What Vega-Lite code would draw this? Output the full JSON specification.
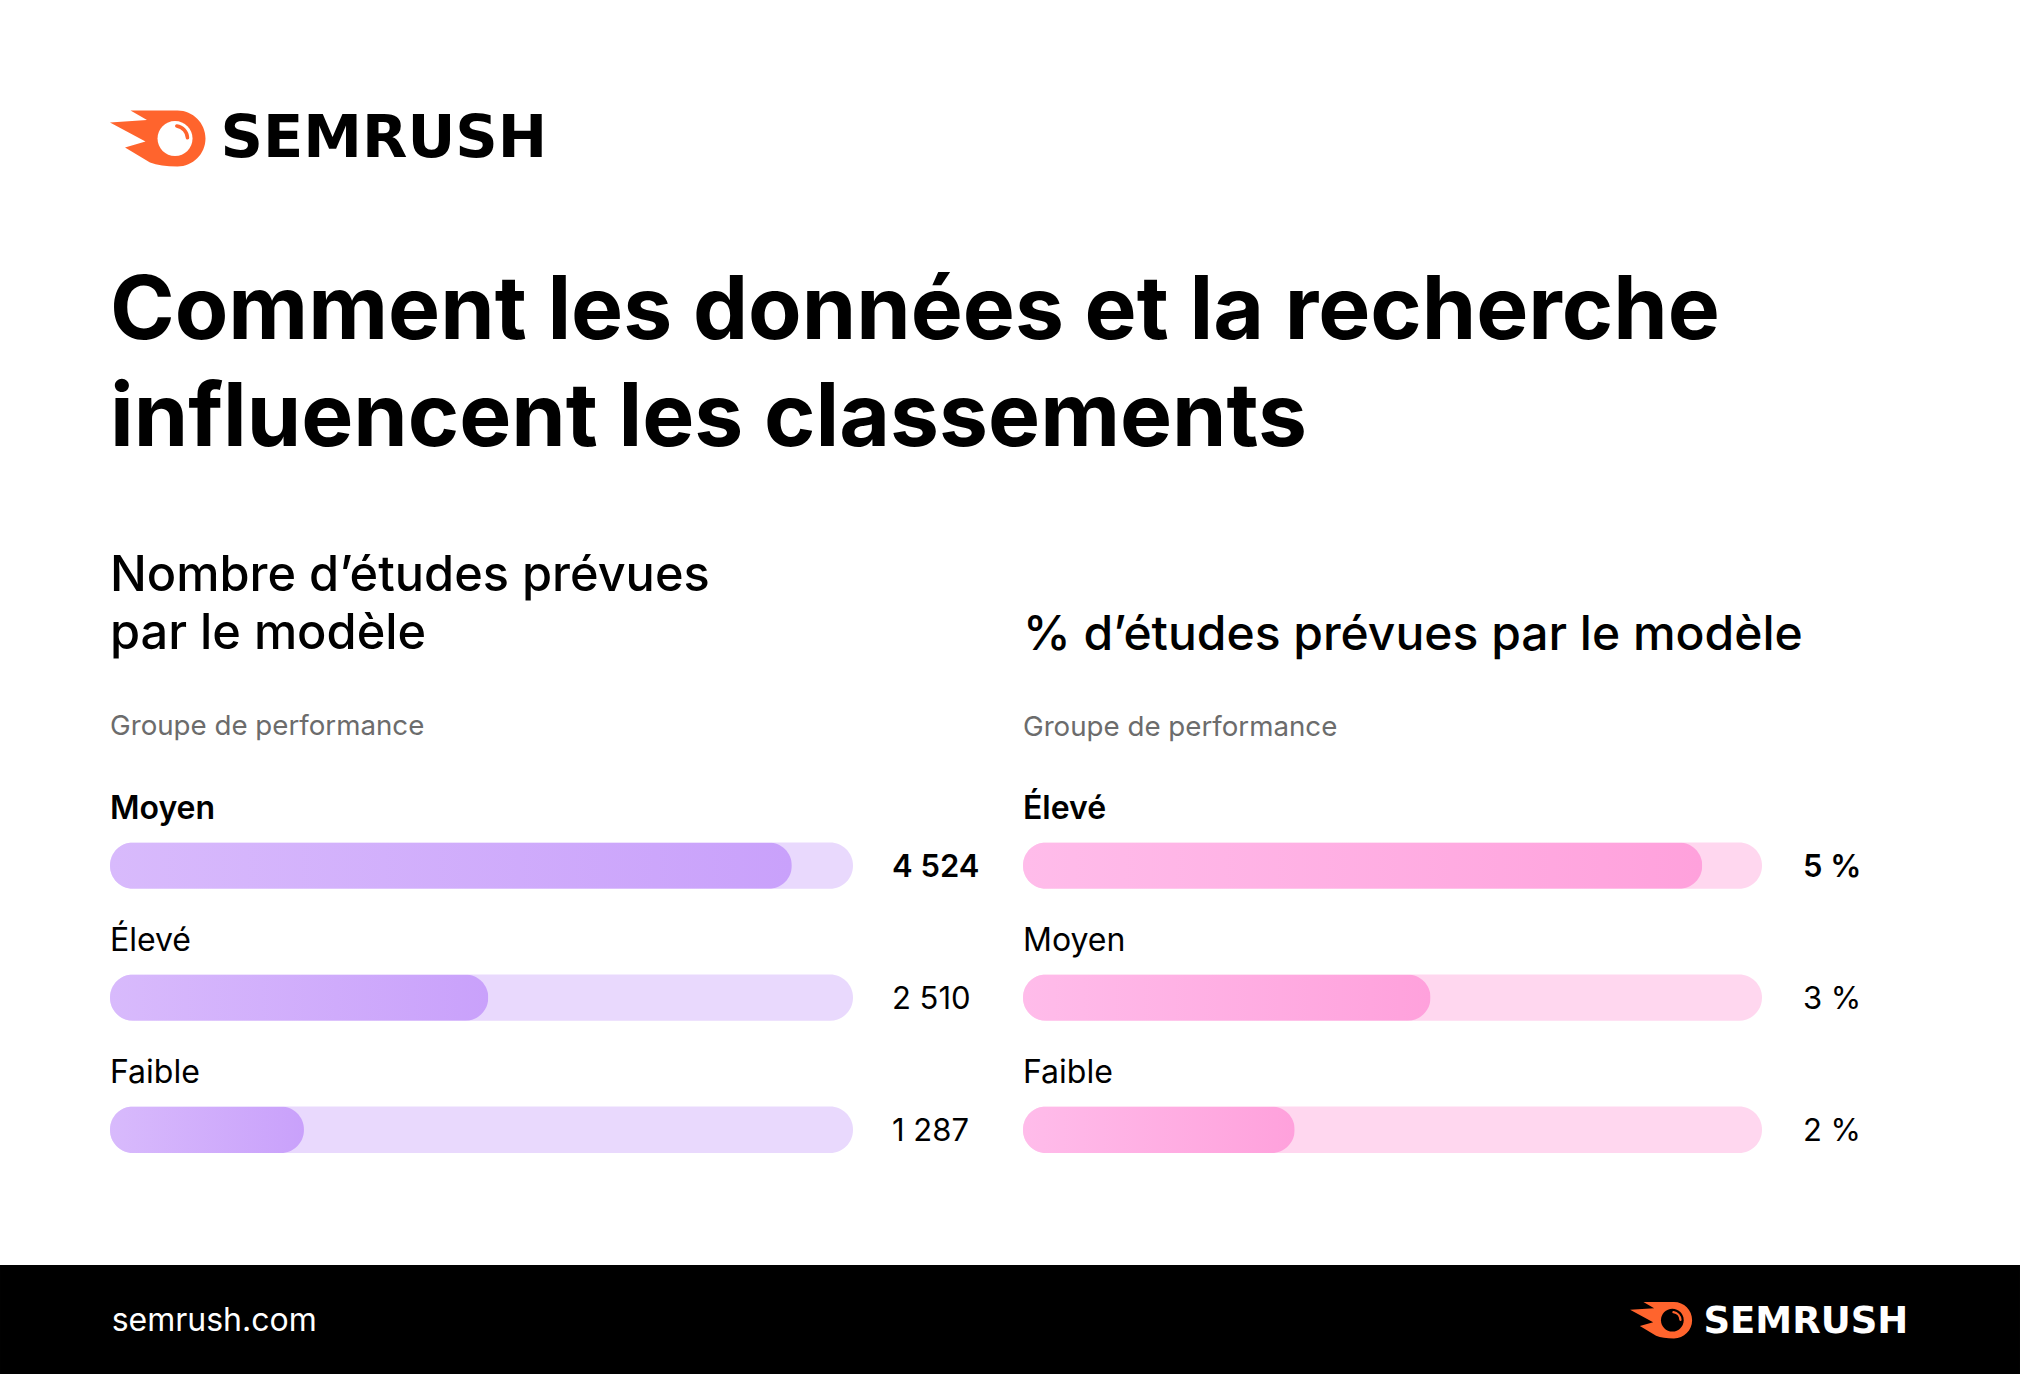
{
  "$schema": "https://vega.github.io/schema/vega-lite/v6.json",
  "background": "#ffffff",
  "padding": {"left": 0, "top": 78.1, "right": 0, "bottom": 0},
  "autosize": {"type": "pad"},
  "config": {
    "view": {"stroke": null},
    "font": "Inter",
    "locale": {"number": {"decimal": ",", "thousands": "\u00a0", "grouping": [3], "currency": ["", "\u00a0€"], "percent": "\u00a0%"}}
  },
  "datasets": {
    "count": [
      {"groupe": "Moyen", "valeur": 4524},
      {"groupe": "Élevé", "valeur": 2510},
      {"groupe": "Faible", "valeur": 1287}
    ],
    "pct": [
      {"groupe": "Élevé", "valeur": 0.05},
      {"groupe": "Moyen", "valeur": 0.03},
      {"groupe": "Faible", "valeur": 0.02}
    ],
    "logo": [{"marque": "SEMRUSH"}],
    "footer": [
      {"slot": "site", "texte": "semrush.com"},
      {"slot": "marque", "texte": "SEMRUSH"}
    ]
  },
  "spacing": 68.5,
  "vconcat": [
    {
      "width": 96,
      "height": 120.4,
      "data": {"name": "logo"},
      "encoding": {
        "y": {"datum": 0, "type": "quantitative", "scale": {"domain": [-1, 1]},
              "axis": {"labels": false, "ticks": false, "grid": false, "domain": true, "domainOpacity": 0, "title": null, "minExtent": 110, "maxExtent": 110}}
      },
      "layer": [
        {"mark": {"type": "point", "shape": "M-0.567,-0.573L0.402,-0.573A0.577,0.577,0,0,1,0.402,0.581Q0.05,0.581,-0.165,0.499L-0.68,0.19L-0.258,0.066L-0.99,-0.326L-0.227,-0.377Z", "size": 9409, "filled": true, "color": "#FF642D", "opacity": 1}},
        {"mark": {"type": "point", "shape": "M-0.01,0.004A0.361,0.361,0,1,1,0.712,0.004A0.361,0.361,0,1,1,-0.01,0.004Z", "size": 9409, "filled": true, "color": "#FFFFFF", "opacity": 1}},
        {"mark": {"type": "point", "shape": "M0.387,-0.252A0.258,0.258,0,0,1,0.608,-0.009", "size": 9409, "filled": false, "color": "#FF642D", "strokeWidth": 3.5, "strokeCap": "round", "opacity": 1}},
        {"mark": {"type": "text", "align": "left", "baseline": "alphabetic", "dx": 62.5, "dy": 18.6, "font": "DejaVu Sans", "fontWeight": "bold", "fontSize": 59, "color": "#000000"},
         "encoding": {"text": {"field": "marque", "type": "nominal"}}}
      ]
    },
    {
      "title": {"text": ["Comment les données et la recherche", "influencent les classements"], "anchor": "start", "frame": "group", "font": "Inter", "fontSize": 87.5, "fontWeight": 700, "lineHeight": 107, "color": "#000000", "offset": 87.6},
      "bounds": "flush",
      "spacing": 170,
      "hconcat": [
        {
          "width": 743,
          "height": 396.15,
          "data": {"name": "count"},
          "title": {"text": ["Nombre d’études prévues", "par le modèle"], "subtitle": "Groupe de performance", "anchor": "start", "frame": "group", "font": "Inter", "fontSize": 48.7, "fontWeight": 500, "lineHeight": 58, "color": "#000000", "subtitleFont": "Inter", "subtitleFontSize": 27.7, "subtitleFontWeight": 400, "subtitleColor": "#6C6C6C", "subtitlePadding": 53.8, "offset": 51.5},
          "encoding": {
            "y": {"field": "groupe", "type": "nominal", "sort": null, "scale": {"paddingInner": 0.649, "paddingOuter": 0.3245},
                  "axis": {"labels": false, "ticks": false, "grid": false, "domain": true, "domainOpacity": 0, "title": null, "minExtent": 110, "maxExtent": 110}}
          },
          "layer": [
            {"mark": {"type": "bar", "cornerRadius": 23, "color": "#E9D9FD"},
             "encoding": {"x": {"datum": 4930, "type": "quantitative", "scale": {"domain": [0, 4930], "nice": false}, "axis": null}}},
            {"mark": {"type": "bar", "cornerRadius": 23, "color": {"gradient": "linear", "x1": 0, "y1": 0, "x2": 1, "y2": 0, "stops": [{"offset": 0, "color": "#D8BAFC"}, {"offset": 1, "color": "#C9A1FB"}]}},
             "encoding": {"x": {"field": "valeur", "type": "quantitative"}}},
            {"transform": [{"filter": {"field": "groupe", "equal": "Moyen"}}],
             "mark": {"type": "text", "align": "left", "baseline": "alphabetic", "dy": -46.3, "fontSize": 32, "fontWeight": 600, "color": "#000000"},
             "encoding": {"x": {"datum": 0, "type": "quantitative"}, "text": {"field": "groupe", "type": "nominal"}}},
            {"transform": [{"filter": {"not": {"field": "groupe", "equal": "Moyen"}}}],
             "mark": {"type": "text", "align": "left", "baseline": "alphabetic", "dy": -46.3, "fontSize": 32, "fontWeight": 400, "color": "#000000"},
             "encoding": {"x": {"datum": 0, "type": "quantitative"}, "text": {"field": "groupe", "type": "nominal"}}},
            {"transform": [{"filter": {"field": "groupe", "equal": "Moyen"}}],
             "mark": {"type": "text", "align": "left", "baseline": "middle", "dx": 39, "dy": 2, "fontSize": 31, "fontWeight": 600, "color": "#000000"},
             "encoding": {"x": {"datum": 4930, "type": "quantitative"}, "text": {"field": "valeur", "type": "quantitative", "format": ",d"}}},
            {"transform": [{"filter": {"not": {"field": "groupe", "equal": "Moyen"}}}],
             "mark": {"type": "text", "align": "left", "baseline": "middle", "dx": 39, "dy": 2, "fontSize": 31, "fontWeight": 400, "color": "#000000"},
             "encoding": {"x": {"datum": 4930, "type": "quantitative"}, "text": {"field": "valeur", "type": "quantitative", "format": ",d"}}}
          ]
        },
        {
          "width": 739,
          "height": 396.15,
          "data": {"name": "pct"},
          "title": {"text": "% d’études prévues par le modèle", "subtitle": "Groupe de performance", "anchor": "start", "frame": "group", "font": "Inter", "fontSize": 48, "fontWeight": 500, "lineHeight": 58, "color": "#000000", "subtitleFont": "Inter", "subtitleFontSize": 27.7, "subtitleFontWeight": 400, "subtitleColor": "#6C6C6C", "subtitlePadding": 53.8, "offset": 51.5},
          "encoding": {
            "y": {"field": "groupe", "type": "nominal", "sort": null, "scale": {"paddingInner": 0.649, "paddingOuter": 0.3245}, "axis": null}
          },
          "layer": [
            {"mark": {"type": "bar", "cornerRadius": 23, "color": "#FFD7EF"},
             "encoding": {"x": {"datum": 0.0544, "type": "quantitative", "scale": {"domain": [0, 0.0544], "nice": false}, "axis": null}}},
            {"mark": {"type": "bar", "cornerRadius": 23, "color": {"gradient": "linear", "x1": 0, "y1": 0, "x2": 1, "y2": 0, "stops": [{"offset": 0, "color": "#FFBCEA"}, {"offset": 1, "color": "#FFA1DC"}]}},
             "encoding": {"x": {"field": "valeur", "type": "quantitative"}}},
            {"transform": [{"filter": {"field": "groupe", "equal": "Élevé"}}],
             "mark": {"type": "text", "align": "left", "baseline": "alphabetic", "dy": -46.3, "fontSize": 32, "fontWeight": 600, "color": "#000000"},
             "encoding": {"x": {"datum": 0, "type": "quantitative"}, "text": {"field": "groupe", "type": "nominal"}}},
            {"transform": [{"filter": {"not": {"field": "groupe", "equal": "Élevé"}}}],
             "mark": {"type": "text", "align": "left", "baseline": "alphabetic", "dy": -46.3, "fontSize": 32, "fontWeight": 400, "color": "#000000"},
             "encoding": {"x": {"datum": 0, "type": "quantitative"}, "text": {"field": "groupe", "type": "nominal"}}},
            {"transform": [{"filter": {"field": "groupe", "equal": "Élevé"}}],
             "mark": {"type": "text", "align": "left", "baseline": "middle", "dx": 41, "dy": 2, "fontSize": 31, "fontWeight": 600, "color": "#000000"},
             "encoding": {"x": {"datum": 0.0544, "type": "quantitative"}, "text": {"field": "valeur", "type": "quantitative", "format": ".0%"}}},
            {"transform": [{"filter": {"not": {"field": "groupe", "equal": "Élevé"}}}],
             "mark": {"type": "text", "align": "left", "baseline": "middle", "dx": 41, "dy": 2, "fontSize": 31, "fontWeight": 400, "color": "#000000"},
             "encoding": {"x": {"datum": 0.0544, "type": "quantitative"}, "text": {"field": "valeur", "type": "quantitative", "format": ".0%"}}}
          ]
        }
      ]
    },
    {
      "width": 1910,
      "height": 110,
      "view": {"fill": "#000000", "stroke": null},
      "data": {"name": "footer"},
      "encoding": {
        "x": {"field": "slot", "type": "nominal", "scale": {"type": "point", "domain": ["site", "marque"], "padding": 0.031565, "align": 0.015}, "axis": null},
        "y": {"datum": 0, "type": "quantitative", "scale": {"domain": [-1, 1]},
              "axis": {"labels": false, "ticks": false, "grid": false, "domain": true, "domainColor": "#000000", "domainWidth": 220, "domainCap": "butt", "domainOpacity": 1, "translate": 0, "title": null, "minExtent": 110, "maxExtent": 110}}
      },
      "layer": [
        {"transform": [{"filter": {"field": "slot", "equal": "site"}}],
         "mark": {"type": "text", "align": "left", "baseline": "alphabetic", "dy": 11, "font": "Inter", "fontSize": 32, "color": "#FFFFFF"},
         "encoding": {"text": {"field": "texte", "type": "nominal"}}},
        {"transform": [{"filter": {"field": "slot", "equal": "marque"}}],
         "mark": {"type": "text", "align": "right", "baseline": "alphabetic", "dy": 12.5, "font": "DejaVu Sans", "fontWeight": "bold", "fontSize": 37, "color": "#FFFFFF"},
         "encoding": {"text": {"field": "texte", "type": "nominal"}}},
        {"transform": [{"filter": {"field": "slot", "equal": "marque"}}],
         "mark": {"type": "point", "shape": "M-0.567,-0.573L0.402,-0.573A0.577,0.577,0,0,1,0.402,0.581Q0.05,0.581,-0.165,0.499L-0.68,0.19L-0.258,0.066L-0.99,-0.326L-0.227,-0.377Z", "size": 3969, "filled": true, "color": "#FF642D", "opacity": 1},
         "encoding": {"xOffset": {"value": -247}}},
        {"transform": [{"filter": {"field": "slot", "equal": "marque"}}],
         "mark": {"type": "point", "shape": "M-0.01,0.004A0.361,0.361,0,1,1,0.712,0.004A0.361,0.361,0,1,1,-0.01,0.004Z", "size": 3969, "filled": true, "color": "#000000", "opacity": 1},
         "encoding": {"xOffset": {"value": -247}}},
        {"transform": [{"filter": {"field": "slot", "equal": "marque"}}],
         "mark": {"type": "point", "shape": "M0.387,-0.252A0.258,0.258,0,0,1,0.608,-0.009", "size": 3969, "filled": false, "color": "#FF642D", "strokeWidth": 2.3, "strokeCap": "round", "opacity": 1},
         "encoding": {"xOffset": {"value": -247}}}
      ]
    }
  ]
}
